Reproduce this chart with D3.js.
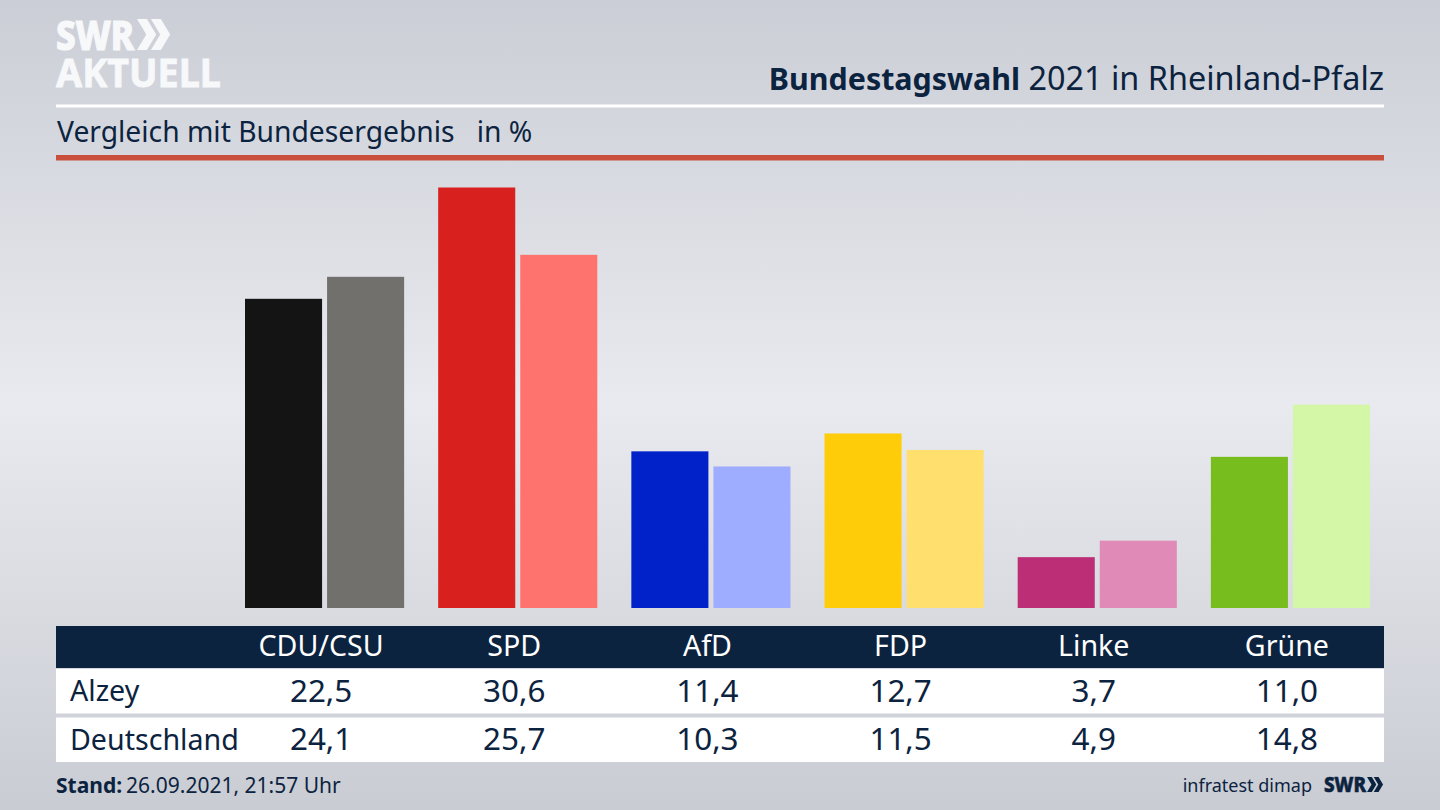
<!DOCTYPE html>
<html>
<head>
<meta charset="utf-8">
<script src="https://cdn.jsdelivr.net/npm/d3@7"></script>
<style>
  html, body { margin: 0; padding: 0; background: #ccced5; overflow: hidden; }
  text { font-family: "Noto Sans", sans-serif; fill: #0c2340; }
</style>
</head>
<body>
<div id="graf"></div>
<script>
// Datos
const partidos = ['CDU/CSU', 'SPD', 'AfD', 'FDP', 'Linke', 'Grüne']
const alzey = [22.5, 30.6, 11.4, 12.7, 3.7, 11.0]
const deutschland = [24.1, 25.7, 10.3, 11.5, 4.9, 14.8]
const coloresAlzey = ['#141414', '#d8201f', '#0022c8', '#ffcc0a', '#bc2f76', '#78bd1e']
const coloresDeutschland = ['#72706d', '#ff736e', '#9eadff', '#ffdf6e', '#e08ab8', '#d3f7a6']
const filas = ['Alzey', 'Deutschland']

const navy = '#0c2340'
const coma = (v) => v.toFixed(1).replace('.', ',')

// Dimensiones
const anchoTotal = 1440
const altoTotal = 810

const svg = d3.select('#graf').append('svg')
    .attr('width', anchoTotal)
    .attr('height', altoTotal)
    .style('display', 'block')

// Fondo
const grad = svg.append('defs').append('linearGradient')
    .attr('id', 'fondo')
    .attr('x1', 0).attr('x2', 0).attr('y1', 0).attr('y2', 1)
grad.selectAll('stop')
    .data([[0, '#cbced6'], [0.5, '#e9eaef'], [1, '#c9ccd3']])
    .join('stop')
    .attr('offset', (d) => d[0])
    .attr('stop-color', (d) => d[1])

svg.append('rect')
    .attr('width', anchoTotal)
    .attr('height', altoTotal)
    .attr('fill', 'url(#fondo)')

// Logo
const chevrones = (g, x, y, h, color) => {
    const a = h * 0.32
    const b = h * 0.3
    const forma = (x0) => `M${x0},${y}L${x0 + a},${y}L${x0 + a + b},${y + h / 2}L${x0 + a},${y + h}L${x0},${y + h}L${x0 + b},${y + h / 2}Z`
    g.append('path').attr('d', forma(x)).attr('fill', color)
    g.append('path').attr('d', forma(x + h * 0.45)).attr('fill', color)
}

svg.append('text')
    .attr('x', 56).attr('y', 50)
    .attr('textLength', 78).attr('lengthAdjust', 'spacingAndGlyphs')
    .style('font-size', '41px').style('font-weight', 800).style('fill', '#f7f8fa')
    .style('stroke', '#f7f8fa').style('stroke-width', 1.2)
    .text('SWR')
svg.append('text')
    .attr('x', 56).attr('y', 87)
    .attr('textLength', 165).attr('lengthAdjust', 'spacingAndGlyphs')
    .style('font-size', '40px').style('font-weight', 700).style('fill', '#f7f8fa')
    .style('stroke', '#f7f8fa').style('stroke-width', 0.8)
    .text('AKTUELL')
chevrones(svg, 137, 19, 31, '#f7f8fa')

// Titulo
const titulo = svg.append('text')
    .attr('x', 1384).attr('y', 90)
    .attr('text-anchor', 'end')
    .style('font-size', '32.4px')
titulo.append('tspan').style('font-weight', 700).style('font-size', '30.4px').text('Bundestagswahl')
titulo.append('tspan').text(' 2021 in Rheinland-Pfalz')

svg.append('rect')
    .attr('x', 56).attr('y', 104.5)
    .attr('width', 1328).attr('height', 3)
    .attr('fill', 'white')

svg.append('text')
    .attr('x', 57).attr('y', 142)
    .style('font-size', '28.25px')
    .style('white-space', 'pre')
    .text('Vergleich mit Bundesergebnis   in %')

svg.append('rect')
    .attr('x', 56).attr('y', 155)
    .attr('width', 1328).attr('height', 5.5)
    .attr('fill', '#c9503c')

// Escaladores
const x = d3.scaleBand()
    .domain(partidos)
    .range([245, 1370])
    .paddingInner(34 / 193)
    .paddingOuter(0)

const xSerie = d3.scaleBand()
    .domain(filas)
    .range([0, x.bandwidth()])
    .paddingInner(5 / 82)
    .paddingOuter(0)

const y = d3.scaleLinear()
    .domain([0, 30.6])
    .range([608, 187.5])

// Barras
const grupos = svg.append('g')
    .selectAll('g')
    .data(partidos)
    .join('g')
    .attr('transform', (d) => `translate(${x(d)}, 0)`)

grupos.append('rect')
    .attr('x', xSerie('Alzey'))
    .attr('y', (d, i) => y(alzey[i]))
    .attr('width', xSerie.bandwidth())
    .attr('height', (d, i) => y(0) - y(alzey[i]))
    .attr('fill', (d, i) => coloresAlzey[i])

grupos.append('rect')
    .attr('x', xSerie('Deutschland'))
    .attr('y', (d, i) => y(deutschland[i]))
    .attr('width', xSerie.bandwidth())
    .attr('height', (d, i) => y(0) - y(deutschland[i]))
    .attr('fill', (d, i) => coloresDeutschland[i])

// Tabla
const centro = (d) => x(d) + xSerie.bandwidth() - 1

svg.append('rect')
    .attr('x', 56).attr('y', 626)
    .attr('width', 1328).attr('height', 42)
    .attr('fill', navy)

svg.append('g')
    .selectAll('text')
    .data(partidos)
    .join('text')
    .attr('x', centro)
    .attr('y', 656)
    .attr('text-anchor', 'middle')
    .style('font-size', '28.6px')
    .style('fill', 'white')
    .text((d) => d)

const yFila = d3.scaleBand()
    .domain(filas)
    .range([669, 762])
    .paddingInner(4 / 48.5)
    .paddingOuter(0)

const valores = { Alzey: alzey, Deutschland: deutschland }

filas.forEach((fila) => {
    const base = yFila(fila) + 32
    svg.append('rect')
        .attr('x', 56).attr('y', yFila(fila))
        .attr('width', 1328).attr('height', yFila.bandwidth())
        .attr('fill', 'white')
    svg.append('text')
        .attr('x', 70).attr('y', base)
        .style('font-size', '28.6px')
        .text(fila)
    svg.append('g')
        .selectAll('text')
        .data(partidos)
        .join('text')
        .attr('x', centro)
        .attr('y', base + 0.5)
        .attr('text-anchor', 'middle')
        .style('font-size', '31.4px')
        .text((d, i) => coma(valores[fila][i]))
})

// Pie
const pie = svg.append('text')
    .attr('x', 56).attr('y', 793)
    .style('font-size', '21px')
pie.append('tspan').style('font-weight', 700).text('Stand:')
pie.append('tspan').attr('dx', 4).text('26.09.2021, 21:57 Uhr')

svg.append('text')
    .attr('x', 1312).attr('y', 792)
    .attr('text-anchor', 'end')
    .style('font-size', '18px')
    .text('infratest dimap')

svg.append('text')
    .attr('x', 1324).attr('y', 792)
    .attr('textLength', 42).attr('lengthAdjust', 'spacingAndGlyphs')
    .style('font-size', '21px').style('font-weight', 800)
    .style('stroke', navy).style('stroke-width', 0.6)
    .text('SWR')
chevrones(svg, 1367, 777, 15, navy)
</script>
</body>
</html>
